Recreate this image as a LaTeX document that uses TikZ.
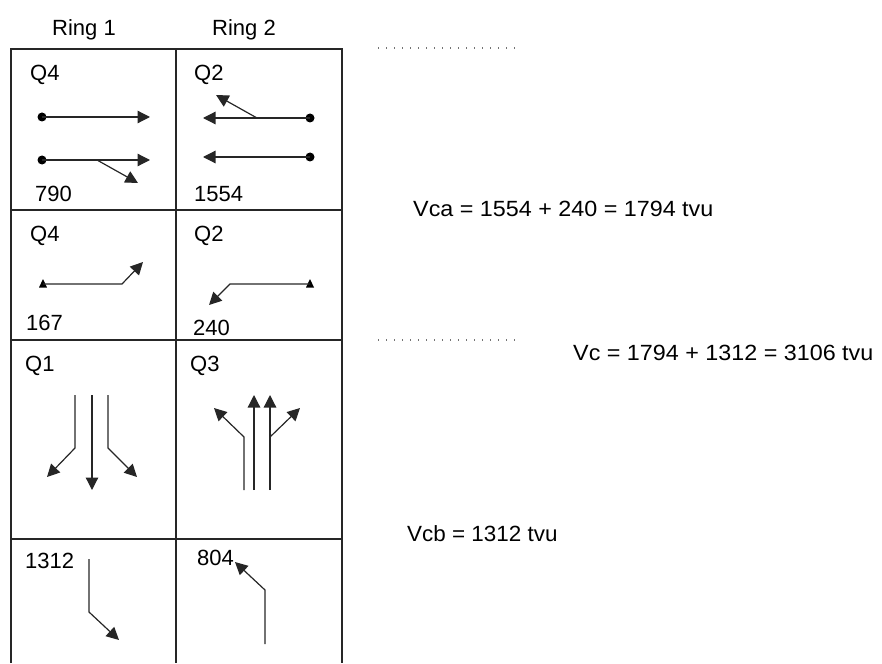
\documentclass[tikz,border=0pt]{standalone}
\usepackage{fontspec}
\setmainfont{Liberation Sans}
\usetikzlibrary{arrows.meta}
\tikzset{
  lbl/.style={anchor=base west,inner sep=0pt,font=\fontsize{22}{24}\selectfont,text=black},
  hdr/.style={anchor=base,inner sep=0pt,font=\fontsize{22}{24}\selectfont,text=black},
  grid/.style={line width=1.4pt,draw=black!85},
  arr/.style={line width=1.2pt,draw=black!85,-{Triangle[length=12.5pt,width=12.5pt]}},
  dotm/.style={circle,fill=black,inner sep=0pt,minimum size=9pt},
  tri/.style={fill=black},
  dots/.style={line width=1.3pt,draw=black!55,dash pattern=on 1.3pt off 6.7pt}
}
\begin{document}
\begin{tikzpicture}[x=1pt,y=-1pt]
\useasboundingbox (0,0) rectangle (882,663);
% headers
\node[hdr] (r1) at (84,36) {Ring 1};
\node[hdr] (r2) at (244,36) {Ring 2};
% table
\draw[grid] (11,663) -- (11,49) -- (342,49) -- (342,663);
\draw[grid] (176,49) -- (176,663);
\draw[grid] (11,210) -- (342,210);
\draw[grid] (11,340) -- (342,340);
\draw[grid] (11,539) -- (342,539);
% labels
\node[lbl] (q4a) at (30,81) {Q4};
\node[lbl] (n790) at (35,201) {790};
\node[lbl] (q2a) at (194,81) {Q2};
\node[lbl] (n1554) at (194,201) {1554};
\node[lbl] (q4b) at (30,241) {Q4};
\node[lbl] (n167) at (26,330) {167};
\node[lbl] (q2b) at (194,241) {Q2};
\node[lbl] (n240) at (193,335) {240};
\node[lbl] (q1) at (25,371) {Q1};
\node[lbl] (q3) at (190,371) {Q3};
\node[lbl] (n1312) at (25,568) {1312};
\node[lbl] (n804) at (197,565) {804};
% right texts
\node[lbl] (vca) at (413,216) {\scalebox{1.06}[1]{Vca = 1554 + 240 = 1794 tvu}};
\node[lbl] (vc) at (573,360) {\scalebox{1.06}[1]{Vc = 1794 + 1312 = 3106 tvu}};
\node[lbl] (vcb) at (407,541) {\scalebox{1.02}[1]{Vcb = 1312 tvu}};
\draw[dots] (378,48) -- (516,48);
\draw[dots] (378,340) -- (516,340);
% row 1, ring 1
\node[dotm] (a1) at (42,117) {};
\coordinate (a1t) at (150,117);
\draw[arr] (a1.center) -- (a1t);
\node[dotm] (a2) at (42,160) {};
\coordinate (a2t) at (150,160);
\coordinate (a2b) at (97,160);
\coordinate (a2bt) at (138,183);
\draw[arr] (a2.center) -- (a2t);
\draw[arr] (a2b) -- (a2bt);
% row 1, ring 2
\node[dotm] (b1) at (310,118) {};
\coordinate (b1t) at (203,118);
\coordinate (b1b) at (257,118);
\coordinate (b1bt) at (216,95);
\draw[arr] (b1.center) -- (b1t);
\draw[arr] (b1b) -- (b1bt);
\node[dotm] (b2) at (310,157) {};
\coordinate (b2t) at (203,157);
\draw[arr] (b2.center) -- (b2t);
% row 2, ring 1
\coordinate (c0) at (43,284);
\coordinate (c1) at (122,284);
\coordinate (c2) at (143,262);
\fill[tri] (39,287.5) -- (47,287.5) -- (43,279) -- cycle;
\draw[arr] (c0) -- (c1) -- (c2);
% row 2, ring 2
\coordinate (d0) at (310,284);
\coordinate (d1) at (230,284);
\coordinate (d2) at (209,305);
\fill[tri] (306,287.5) -- (314,287.5) -- (310,279) -- cycle;
\draw[arr] (d0) -- (d1) -- (d2);
% row 3, Q1
\coordinate (e1) at (75,395); \coordinate (e1m) at (75,448); \coordinate (e1t) at (47,477);
\coordinate (e2) at (92,395); \coordinate (e2t) at (92,490);
\coordinate (e3) at (108,395); \coordinate (e3m) at (108,448); \coordinate (e3t) at (137,477);
\draw[arr] (e1) -- (e1m) -- (e1t);
\draw[arr] (e2) -- (e2t);
\draw[arr] (e3) -- (e3m) -- (e3t);
% row 3, Q3
\coordinate (f1) at (244,490); \coordinate (f1m) at (244,437); \coordinate (f1t) at (214,408);
\coordinate (f2) at (254,490); \coordinate (f2t) at (254,395);
\coordinate (f3) at (270,490); \coordinate (f3t) at (270,395);
\coordinate (f3m) at (270,437); \coordinate (f3bt) at (300,408);
\draw[arr] (f1) -- (f1m) -- (f1t);
\draw[arr] (f2) -- (f2t);
\draw[arr] (f3) -- (f3t);
\draw[arr] (f3m) -- (f3bt);
% row 4
\coordinate (g0) at (89,559); \coordinate (g1) at (89,612); \coordinate (g2) at (119,640);
\draw[arr] (g0) -- (g1) -- (g2);
\coordinate (h0) at (265,644); \coordinate (h1) at (265,590); \coordinate (h2) at (235,562);
\draw[arr] (h0) -- (h1) -- (h2);
\end{tikzpicture}
\end{document}
